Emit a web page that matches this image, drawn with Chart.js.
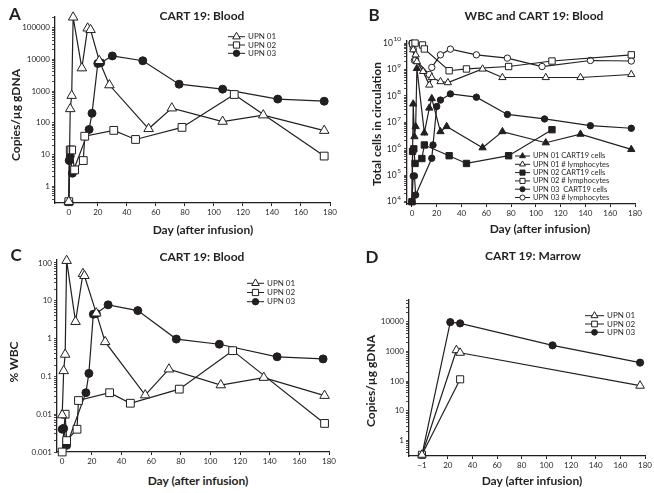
<!DOCTYPE html>
<html>
<head>
<meta charset="utf-8">
<script src="https://cdn.jsdelivr.net/npm/chart.js@4.4.0/dist/chart.umd.min.js"></script>
<style>
  body { margin: 0; background: #fff; }
  #wrap { position: relative; width: 654px; height: 493px; overflow: hidden;
          font-family: Lato, "Open Sans", sans-serif; color: #231f20; }
  canvas { position: absolute; }
  .t { position: absolute; transform: translate(-50%, -50%); white-space: nowrap; font-weight: bold; font-size: 12px; }
  .v { transform: translate(-50%, -50%) rotate(-90deg); }
  .L { font-size: 17px; }
</style>
</head>
<body>
<div id="wrap">
  <canvas id="cA" width="340" height="222" style="left:0;top:0"></canvas>
  <canvas id="cB" width="314" height="222" style="left:340px;top:0"></canvas>
  <canvas id="cC" width="340" height="225" style="left:0;top:245px"></canvas>
  <canvas id="cD" width="314" height="229" style="left:340px;top:245px"></canvas>

  <div class="t L" style="left:15px;top:13px">A</div>
  <div class="t L" style="left:374px;top:14px">B</div>
  <div class="t L" style="left:16px;top:254px">C</div>
  <div class="t L" style="left:372px;top:256px">D</div>

  <div class="t" style="left:202px;top:15px">CART 19: Blood</div>
  <div class="t" style="left:534px;top:15px">WBC and CART 19: Blood</div>
  <div class="t" style="left:202px;top:256px">CART 19: Blood</div>
  <div class="t" style="left:533px;top:255px">CART 19: Marrow</div>

  <div class="t" style="left:203px;top:229px">Day (after infusion)</div>
  <div class="t" style="left:540px;top:228px">Day (after infusion)</div>
  <div class="t" style="left:198px;top:480px">Day (after infusion)</div>
  <div class="t" style="left:532px;top:480px">Day (after infusion)</div>

  <div class="t v" style="left:15px;top:115px">Copies/µg gDNA</div>
  <div class="t v" style="left:376px;top:124px">Total cells in circulation</div>
  <div class="t v" style="left:13px;top:362px">% WBC</div>
  <div class="t v" style="left:370px;top:381px">Copies/µg gDNA</div>
</div>

<script>
// ---- A: CART19 copies / µg gDNA in blood ----
const A_DAYS_01 = [0, 1, 2, 3, 9, 13, 15, 21, 28, 55, 71, 106, 134, 176];
const A_UPN01   = [0.33, 275, 720, 210000, 5300, 95000, 85000, 9000, 1550, 65, 290, 110, 175, 57];
const A_DAYS_02 = [0, 1, 2, 4, 10, 11, 31, 46, 78, 114, 176];
const A_UPN02   = [0.33, 14, 14, 3.3, 6.5, 38, 58, 30, 72, 780, 9];
const A_DAYS_03 = [0, 0.3, 1, 2.5, 14, 16, 20, 22, 30, 51, 76, 106, 144, 176];
const A_UPN03   = [0.33, 6.5, 9, 2.6, 62, 200, 7400, 7800, 12800, 9000, 1650, 1150, 560, 480];

// ---- B: total cells in circulation ----
const B_DAYS_01C = [0, 1, 2, 3, 4, 10, 14, 16, 23, 28, 57, 73, 108, 136, 177];
const B_UPN01_CART = [1e4, 5e7, 2.9e6, 7e6, 1.1e9, 4e6, 3.5e7, 8e7, 4.5e6, 7e6, 1.1e6, 4.5e6, 1.7e6, 3.6e6, 9.5e5];
const B_DAYS_01L = [1, 3, 4, 9, 14, 16, 23, 29, 57, 73, 108, 136, 177];
const B_UPN01_LYM = [5.6e9, 3.6e9, 2e9, 8.5e8, 2.6e8, 5e8, 3.5e8, 3.2e8, 1.05e9, 5e8, 5e8, 5e8, 6.5e8];
const B_DAYS_02C = [0, 0.5, 1.5, 2.5, 8, 10, 30, 44, 78, 113];
const B_UPN02_CART = [1e4, 8e5, 1e6, 2.8e5, 4.3e5, 1.4e6, 5.5e5, 2.8e5, 5.5e5, 5.3e6];
const B_DAYS_02L = [0.5, 2.5, 8.5, 10, 30, 44, 78, 113, 177];
const B_UPN02_LYM = [9.5e9, 1e10, 8.5e9, 6e9, 9e8, 1.05e9, 1.3e9, 2.1e9, 3.6e9];
const B_DAYS_03C = [0, 1, 2, 3, 16, 17, 20, 23, 31, 52, 77, 107, 144, 177];
const B_UPN03_CART = [1e4, 9.3e4, 9.5e4, 1.8e4, 4.4e5, 1.4e6, 4e7, 7e7, 1.2e8, 9e7, 2e7, 1.35e7, 7.5e6, 6e6];
const B_DAYS_03L = [0, 1, 2, 3, 14, 16, 23, 31, 52, 77, 105, 144, 177];
const B_UPN03_LYM = [1e10, 6e9, 2.2e9, 2.3e9, 6.5e8, 1.2e9, 3.6e9, 5.9e9, 3.6e9, 2.7e9, 1.3e9, 2.2e9, 2.1e9];

// ---- C: % WBC ----
const C_DAYS_01 = [0, 1, 2, 3, 9, 14, 15, 23, 29, 56, 72, 107, 136, 177];
const C_UPN01   = [0.0095, 0.14, 0.38, 115, 2.8, 52, 46, 4.7, 0.82, 0.032, 0.155, 0.059, 0.093, 0.031];
const C_DAYS_02 = [0, 2, 3, 10, 11, 32, 46, 79, 115, 177];
const C_UPN02   = [0.001, 0.01, 0.002, 0.004, 0.023, 0.037, 0.0195, 0.046, 0.48, 0.0057];
const C_DAYS_03 = [0, 1, 3, 16, 18, 21, 23, 31, 51, 77, 106, 145, 176];
const C_UPN03   = [0.004, 0.0042, 0.0015, 0.037, 0.12, 4.4, 4.6, 7.8, 5.5, 0.97, 0.71, 0.33, 0.29];

// ---- D: marrow copies / µg gDNA ----
const D_DAYS_01 = [-1, 27, 30, 176];
const D_UPN01   = [0.33, 1100, 900, 70];
const D_DAYS_02 = [-1, 30];
const D_UPN02   = [0.33, 115];
const D_DAYS_03 = [-1, 22, 30, 105, 176];
const D_UPN03   = [0.33, 9700, 8800, 1600, 420];

const X_TICKS   = [0, 20, 40, 60, 80, 100, 120, 140, 160, 180];
const D_X_TICKS = [-1, 20, 40, 60, 80, 100, 120, 140, 160, 180];
const B_EXPONENTS = [4, 5, 6, 7, 8, 9, 10];

const INK = '#231f20';
const FONT = 'Lato, "DejaVu Sans", sans-serif';

const pts = (xs, ys) => xs.map((x, i) => ({ x, y: ys[i] }));

function series(label, xs, ys, shape, filled, r) {
    return {
        label,
        data: pts(xs, ys),
        borderColor: INK,
        borderWidth: 1.2,
        pointStyle: shape,
        pointRadius: r,
        pointHoverRadius: r,
        pointBackgroundColor: filled ? INK : '#fff',
        pointBorderColor: INK,
        pointBorderWidth: 1,
        tension: 0,
        clip: false,
    };
}

// all decade ticks plus minor ones (2..9) between min and max
function logTicks(min, max) {
    const out = [];
    for (let e = Math.floor(Math.log10(min)); e <= Math.ceil(Math.log10(max)); e++) {
        for (let k = 1; k <= 9; k++) {
            const v = k * Math.pow(10, e);
            if (v >= min * 0.999 && v <= max * 1.001) out.push({ value: v });
        }
    }
    return out;
}

const isPow10 = v => Math.abs(Math.log10(v) - Math.round(Math.log10(v))) < 1e-6;

const inlineLegend = {
    id: 'inlineLegend',
    afterDatasetsDraw(chart, args, o) {
        const ctx = chart.ctx;
        ctx.save();
        ctx.font = `${o.size}px ${FONT}`;
        ctx.textBaseline = 'middle';
        chart.data.datasets.forEach((ds, i) => {
            const y = o.y + i * o.step;
            ctx.strokeStyle = INK;
            ctx.lineWidth = 1;
            ctx.beginPath();
            ctx.moveTo(o.x, y);
            ctx.lineTo(o.x + o.len, y);
            ctx.stroke();
            ctx.fillStyle = ds.pointBackgroundColor;
            Chart.helpers.drawPoint(ctx, { pointStyle: ds.pointStyle, radius: ds.pointRadius * o.k, borderWidth: 1 }, o.x + o.len / 2, y);
            ctx.fillStyle = INK;
            ctx.fillText(ds.label, o.x + o.len + o.gap, y);
        });
        ctx.restore();
    },
};

// powers of ten with a raised exponent ("10" + small superscript), panel B only
const powerLabels = {
    id: 'powerLabels',
    afterDraw(chart, args, o) {
        if (!o.on) return;
        const s = chart.scales.y;
        const ctx = chart.ctx;
        ctx.save();
        ctx.fillStyle = INK;
        ctx.textAlign = 'right';
        ctx.textBaseline = 'middle';
        B_EXPONENTS.forEach(e => {
            const y = s.getPixelForValue(Math.pow(10, e));
            const right = s.right - 6;
            ctx.font = `6.5px ${FONT}`;
            const ew = ctx.measureText(String(e)).width;
            ctx.fillText(String(e), right, y - 4);
            ctx.font = `8.5px ${FONT}`;
            ctx.fillText('10', right - ew - 0.5, y);
        });
        ctx.restore();
    },
};

function build(id, datasets, c) {
    const tickFont = { size: 8, family: FONT };
    return new Chart(document.getElementById(id), {
        type: 'line',
        data: { datasets },
        options: {
            responsive: false,
            animation: false,
            events: [],
            layout: { padding: { top: c.top, right: c.right, left: 0, bottom: 0 } },
            plugins: {
                legend: { display: false },
                tooltip: { enabled: false },
                inlineLegend: c.legend,
                powerLabels: { on: !!c.powers },
            },
            scales: {
                x: {
                    type: 'linear', min: c.xMin, max: 180,
                    afterBuildTicks: s => { s.ticks = c.xTicks.map(v => ({ value: v })); },
                    afterFit: s => { s.height = c.xH; },
                    grid: { drawOnChartArea: false, tickLength: 3, color: INK },
                    border: { color: INK, width: 1.3 },
                    ticks: { color: INK, font: tickFont, padding: 2, autoSkip: false, maxRotation: 0,
                             callback: v => (v < 0 ? '\u2212' + Math.abs(v) : String(v)) },
                },
                y: {
                    type: 'logarithmic', min: c.yMin, max: c.yMax,
                    afterBuildTicks: s => { s.ticks = logTicks(c.yMin, c.yMax); },
                    afterFit: s => { s.width = c.yW; },
                    grid: { drawOnChartArea: false, tickLength: 3, color: INK, lineWidth: 0.8 },
                    border: { color: INK, width: 1.3 },
                    ticks: { color: INK, font: tickFont, padding: 2, autoSkip: false,
                             callback: v => (!c.powers && isPow10(v) ? c.yLabel(v) : '') },
                },
            },
        },
        plugins: [inlineLegend, powerLabels],
    });
}

build('cA', [
    series('UPN 01', A_DAYS_01, A_UPN01, 'triangle', false, 5.5),
    series('UPN 02', A_DAYS_02, A_UPN02, 'rect', false, 5.5),
    series('UPN 03', A_DAYS_03, A_UPN03, 'circle', true, 4),
], {
    top: 17, right: 10, xH: 19, yW: 55, xMin: -9.5, xTicks: X_TICKS,
    yMin: 0.33, yMax: 2.15e5, yLabel: v => String(Math.round(v)),
    legend: { x: 228, y: 36.7, step: 8.3, len: 17, gap: 3, size: 8, k: 0.8 },
});

build('cB', [
    series('UPN 01 CART19 cells', B_DAYS_01C, B_UPN01_CART, 'triangle', true, 4.2),
    series('UPN 01 # lymphocytes', B_DAYS_01L, B_UPN01_LYM, 'triangle', false, 4.2),
    series('UPN 02 CART19 cells', B_DAYS_02C, B_UPN02_CART, 'rect', true, 4.5),
    series('UPN 02 # lymphocytes', B_DAYS_02L, B_UPN02_LYM, 'rect', false, 4.5),
    series('UPN 03  CART19 cells', B_DAYS_03C, B_UPN03_CART, 'circle', true, 3.2),
    series('UPN 03 # lymphocytes', B_DAYS_03L, B_UPN03_LYM, 'circle', false, 3.2),
], {
    top: 41, right: 19, xH: 18, yW: 67, xMin: -4, xTicks: X_TICKS,
    yMin: 8.2e3, yMax: 1.2e10, powers: true,
    legend: { x: 175, y: 156, step: 8.3, len: 15, gap: 3, size: 7.5, k: 0.8 },
});

build('cC', [
    series('UPN 01', C_DAYS_01, C_UPN01, 'triangle', false, 5.5),
    series('UPN 02', C_DAYS_02, C_UPN02, 'rect', false, 5.5),
    series('UPN 03', C_DAYS_03, C_UPN03, 'circle', true, 4),
], {
    top: 15, right: 11, xH: 18, yW: 57, xMin: -3.5, xTicks: X_TICKS,
    yMin: 0.001, yMax: 120, yLabel: v => (v >= 1 ? String(Math.round(v)) : String(+v.toPrecision(1))),
    legend: { x: 247, y: 38.3, step: 9.2, len: 17, gap: 3, size: 8, k: 0.8 },
});

build('cD', [
    series('UPN 01', D_DAYS_01, D_UPN01, 'triangle', false, 5),
    series('UPN 02', D_DAYS_02, D_UPN02, 'rect', false, 5),
    series('UPN 03', D_DAYS_03, D_UPN03, 'circle', true, 3.6),
], {
    top: 55, right: 9, xH: 18, yW: 69, xMin: -11.5, xTicks: D_X_TICKS,
    yMin: 0.32, yMax: 5.4e4, yLabel: v => String(Math.round(v)),
    legend: { x: 245, y: 70.7, step: 8.3, len: 19, gap: 3, size: 8, k: 0.8 },
});
</script>
</body>
</html>
